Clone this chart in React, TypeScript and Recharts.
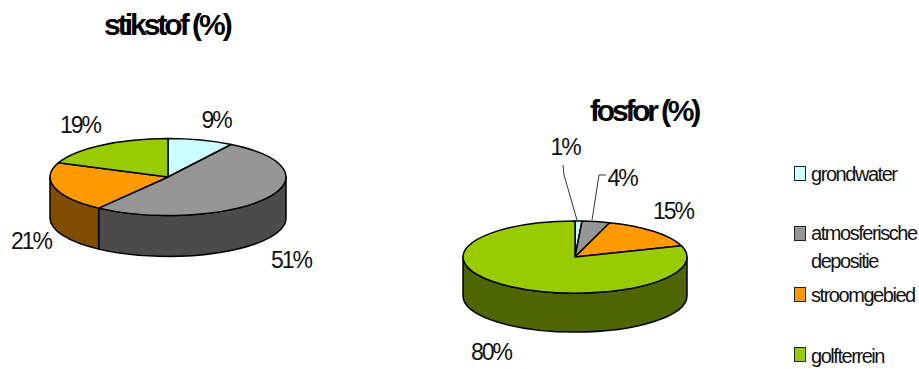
import { Pie, PieChart } from "recharts";

const categories = ["grondwater", "atmosferische depositie", "stroomgebied", "golfterrein"];
const topColors = ["#ccffff", "#969696", "#ff9900", "#99cc00"];
const sideColors = ["#668080", "#4b4b4b", "#804d00", "#4d6600"];
const stikstofValues = [9, 51, 21, 19];
const fosforValues = [1, 4, 15, 80];

const stikstofLabelPos = [[216, 120], [291, 260], [31, 241], [80, 125]];
const fosforLabelPos = [[565, 147], [622, 178], [673, 211], [491, 352]];
const fosforLeaders = ["563,165 564,175 577,220", "606,175 599,175 592,220", "", ""];

const legendRows = [
  { swatchY: 166, lines: [["grondwater", 174]] },
  { swatchY: 226, lines: [["atmosferische", 233], ["depositie", 261]] },
  { swatchY: 287, lines: [["stroomgebied", 295]] },
  { swatchY: 347, lines: [["golfterrein", 356]] },
];

const font = "'Liberation Sans', Arial, sans-serif";

function toRows(values: number[]) {
  return values.map((value, i) => ({ name: categories[i], value, fill: topColors[i], side: sideColors[i] }));
}

// flattened 3D slice: the library gives angles and radius, we squash them to an ellipse
function tiltedSlice(tilt: number, depth: number) {
  return function TiltedSlice(props: any) {
    const { cx, cy, outerRadius, startAngle, endAngle, fill, side } = props;
    const rx = outerRadius;
    const ry = outerRadius * tilt;
    const pt = (deg: number, dy = 0) => {
      const a = (deg * Math.PI) / 180;
      return `${cx + rx * Math.cos(a)} ${cy - ry * Math.sin(a) + dy}`;
    };
    const large = Math.abs(startAngle - endAngle) > 180 ? 1 : 0;
    const top = `M${cx} ${cy} L${pt(startAngle)} A${rx} ${ry} 0 ${large} 1 ${pt(endAngle)} Z`;

    // only the front half of the rim shows, angles 0 down to -180
    const s = Math.min(startAngle, 0);
    const e = Math.max(endAngle, -180);
    const wall =
      s > e
        ? `M${pt(s)} A${rx} ${ry} 0 0 1 ${pt(e)} L${pt(e, depth)} A${rx} ${ry} 0 0 0 ${pt(s, depth)} Z`
        : null;
    return (
      <g>
        {wall && <path d={wall} fill={side} stroke="#000" strokeWidth={1.5} strokeLinejoin="round" />}
        <path d={top} fill={fill} stroke="#000" strokeWidth={1.5} strokeLinejoin="round" />
      </g>
    );
  };
}

function pctLabel(positions: number[][], leaders: string[] = []) {
  return function PctLabel(props: any) {
    const { index, value } = props;
    const [x, y] = positions[index];
    return (
      <g>
        {leaders[index] && <polyline points={leaders[index]} fill="none" stroke="#000" strokeWidth={0.8} />}
        <text x={x} y={y} textAnchor="middle" dominantBaseline="central" fontFamily={font} fontSize={23} letterSpacing={-2} fill="#111">
          {value}%
        </text>
      </g>
    );
  };
}

const titleStyle = {
  position: "absolute" as const,
  fontFamily: font,
  fontWeight: 700,
  fontSize: 30,
  letterSpacing: -3,
  color: "#000",
  lineHeight: "32px",
  whiteSpace: "nowrap" as const,
};

export default function App() {
  return (
    <div style={{ position: "absolute", left: 0, top: 0, width: 919, height: 369, background: "#fff", overflow: "hidden" }}>
      <PieChart width={919} height={369} margin={{ top: 0, right: 0, bottom: 0, left: 0 }}>
        <Pie
          data={toRows(stikstofValues)}
          dataKey="value"
          nameKey="name"
          cx={168}
          cy={177}
          outerRadius={118}
          startAngle={90}
          endAngle={-270}
          stroke="none"
          isAnimationActive={false}
          shape={tiltedSlice(0.326, 41)}
          label={pctLabel(stikstofLabelPos)}
          labelLine={false}
        />
        <Pie
          data={toRows(fosforValues)}
          dataKey="value"
          nameKey="name"
          cx={575}
          cy={257}
          outerRadius={112}
          startAngle={90}
          endAngle={-270}
          stroke="none"
          isAnimationActive={false}
          shape={tiltedSlice(0.322, 39)}
          label={pctLabel(fosforLabelPos, fosforLeaders)}
          labelLine={false}
        />
      </PieChart>
      <div style={{ ...titleStyle, left: 104, top: 9 }}>stikstof (%)</div>
      <div style={{ ...titleStyle, left: 590, top: 95, letterSpacing: -3.2 }}>fosfor (%)</div>
      {legendRows.map((row, i) => (
        <div key={categories[i]}>
          <div
            style={{
              position: "absolute",
              left: 794,
              top: row.swatchY,
              width: 12,
              height: 15,
              boxSizing: "border-box",
              background: topColors[i],
              border: "1.5px solid #222",
            }}
          />
          {row.lines.map(([text, y]) => (
            <div
              key={text as string}
              style={{
                position: "absolute",
                left: 811,
                top: (y as number) - 12,
                lineHeight: "24px",
                fontFamily: font,
                fontSize: 20,
                letterSpacing: -1.45,
                color: "#111",
                whiteSpace: "nowrap",
              }}
            >
              {text}
            </div>
          ))}
        </div>
      ))}
    </div>
  );
}
